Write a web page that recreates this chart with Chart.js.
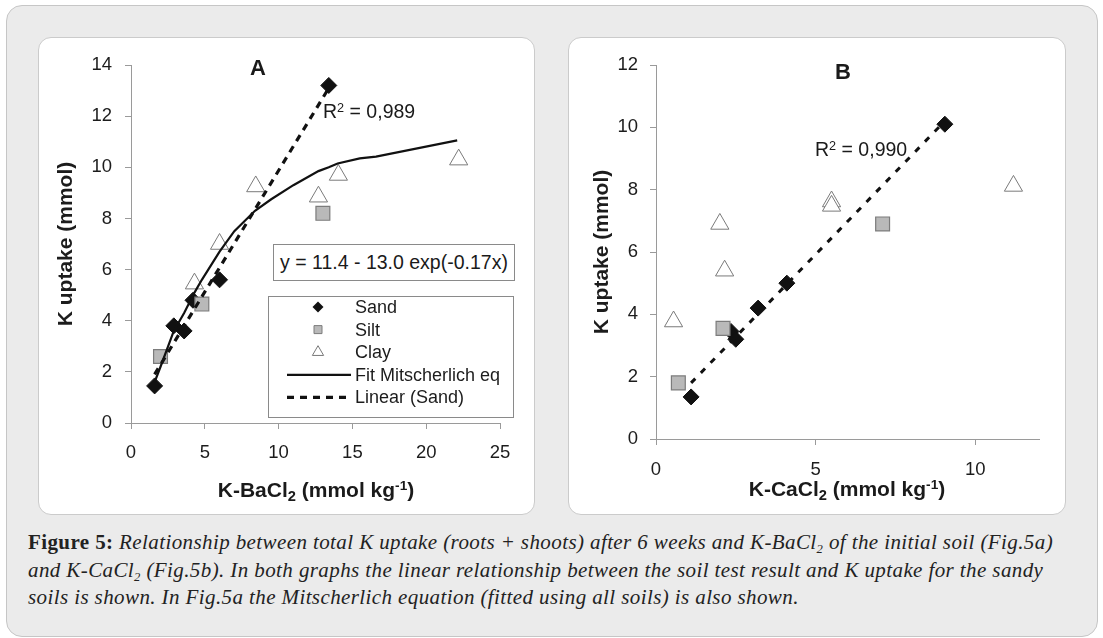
<!DOCTYPE html>
<html>
<head>
<meta charset="utf-8">
<title>Figure 5 - K uptake vs soil test K</title>
<script src="https://cdn.jsdelivr.net/npm/chart.js@4.4.0/dist/chart.umd.min.js"></script>
<style>
  html, body { margin: 0; padding: 0; background: #fff; }
  body { width: 1103px; height: 638px; position: relative; overflow: hidden;
         font-family: "Liberation Sans", Arial, sans-serif; color: #1a1a1a; }
  #frame { position: absolute; left: 6px; top: 5px; width: 1092px; height: 632px; box-sizing: border-box;
           background: #ebebeb; border: 1px solid #c6c6c6; border-radius: 16px; }
  .panel { position: absolute; top: 37px; height: 478px; box-sizing: border-box;
           background: #fff; border: 1px solid #cbcbcb; border-radius: 13px; }
  canvas { position: absolute; top: 37px; }
  .lbl { position: absolute; transform: translate(-50%, -50%); white-space: nowrap; }
  .left { position: absolute; transform: translate(0, -50%); white-space: nowrap; }
  .xt { font-weight: bold; font-size: 21px; }
  .ttl { font-weight: bold; font-size: 22px; }
  .r2 { font-size: 19.5px; }
  .sb { font-size: 0.7em; position: relative; top: 0.3em; }
  .sp { font-size: 0.65em; position: relative; top: -0.5em; }
  #eq { position: absolute; left: 273px; top: 244px; width: 242px; height: 37px; box-sizing: border-box;
        border: 1px solid #8a8a8a; background: #fff; font-size: 19.5px; line-height: 35px; text-align: center;
        white-space: nowrap; z-index: 2; }
  #caption { position: absolute; left: 28px; top: 529px; font-family: "Liberation Serif", "Times New Roman", serif;
             font-size: 21px; line-height: 27.5px; color: #222; letter-spacing: 0.4px; }
  #caption .ln { display: block; white-space: nowrap; }
  #caption i sub { font-size: 0.6em; line-height: 0; vertical-align: -0.3em; }
  .z { z-index: 3; }
</style>
</head>
<body>
<div id="frame"></div>
<div class="panel" style="left:38px; width:497px;"></div>
<div class="panel" style="left:568px; width:498px;"></div>
<canvas id="chartA" width="497" height="478" style="left:38px;"></canvas>
<canvas id="chartB" width="498" height="478" style="left:568px;"></canvas>

<div class="lbl ttl z" style="left:258px; top:68px;">A</div>
<div class="lbl ttl z" style="left:843px; top:72px;">B</div>
<div class="left r2 z" style="left:323px; top:111px;">R<span class="sp">2</span> = 0,989</div>
<div class="left r2 z" style="left:815px; top:149px;">R<span class="sp">2</span> = 0,990</div>
<div id="eq">y = 11.4 - 13.0 exp(-0.17x)</div>
<div class="lbl xt z" style="left:316px; top:490px;">K-BaCl<span class="sb">2</span> (mmol kg<span class="sp">-1</span>)</div>
<div class="lbl xt z" style="left:847px; top:489px;">K-CaCl<span class="sb">2</span> (mmol kg<span class="sp">-1</span>)</div>

<div id="caption">
  <span class="ln"><b>Figure 5:</b> <i>Relationship between total K uptake (roots + shoots) after 6 weeks and K-BaCl<sub>2</sub> of the initial soil (Fig.5a)</i></span>
  <span class="ln"><i>and K-CaCl<sub>2</sub> (Fig.5b). In both graphs the linear relationship between the soil test result and K uptake for the sandy</i></span>
  <span class="ln"><i>soils is shown. In Fig.5a the Mitscherlich equation (fitted using all soils) is also shown.</i></span>
</div>

<script>
// figure5.js
// Two scatter panels: K uptake against K-BaCl2 (A) and K-CaCl2 (B)

// =============== DATA: panel A (K-BaCl2) ===============
const sandA_x = [1.6, 2.9, 3.6, 4.2, 6.0, 13.4];
const sandA_y = [1.45, 3.8, 3.6, 4.8, 5.6, 13.2];
const siltA_x = [2.0, 4.8, 13.0];
const siltA_y = [2.6, 4.65, 8.2];
const clayA_x = [4.3, 6.0, 8.45, 12.7, 14.05, 22.2];
const clayA_y = [5.45, 7.0, 9.25, 8.85, 9.7, 10.3];
// Mitscherlich fit as drawn
const fitA_x = [1.6, 2.0, 2.9, 3.6, 4.3, 4.8, 6.0, 7.0, 8.4, 9.5, 11.0, 12.7, 13.4, 14.0, 15.5, 16.6, 22.1];
const fitA_y = [1.6, 2.2, 3.6, 4.3, 5.1, 5.6, 6.7, 7.5, 8.3, 8.75, 9.3, 9.85, 10.0, 10.15, 10.35, 10.42, 11.05];
// linear trend (sand), end points
const linA_x = [1.6, 13.4];
const linA_y = [1.9, 13.1];

// =============== DATA: panel B (K-CaCl2) ===============
const sandB_x = [1.1, 2.35, 2.5, 3.2, 4.1, 9.05];
const sandB_y = [1.35, 3.45, 3.2, 4.2, 5.0, 10.1];
const siltB_x = [0.7, 2.1, 7.1];
const siltB_y = [1.8, 3.55, 6.9];
const clayB_x = [0.55, 2.0, 2.15, 5.5, 5.5, 11.2];
const clayB_y = [3.77, 6.9, 5.4, 7.62, 7.48, 8.12];
const linB_x = [1.1, 9.05];
const linB_y = [1.8, 10.2];

// axis ranges / tick steps
const xMaxA = 25, yMaxA = 14, xStepA = 5, yStepA = 2;
const xMaxB = 12, yMaxB = 12, xStepB = 5, yStepB = 2;

const LEGEND_ORDER = ['Sand', 'Silt', 'Clay', 'Fit Mitscherlich eq', 'Linear (Sand)'];
// ======================================================

const AXIS_COLOR = '#9a9a9a';
const TICK_COLOR = '#1c1c1c';
Chart.defaults.font.family = '"Liberation Sans", Arial, sans-serif';

function pts(xs, ys) {
  return xs.map((x, i) => ({ x: x, y: ys[i] }));
}

// marker styles shared by both panels
function sandSet(xs, ys) {
  return { label: 'Sand', data: pts(xs, ys), order: 4, pointStyle: 'rectRot', pointRadius: 8,
           backgroundColor: '#111', borderColor: '#111', borderWidth: 1 };
}
function siltSet(xs, ys) {
  return { label: 'Silt', data: pts(xs, ys), order: 3, pointStyle: 'rect', pointRadius: 9.8,
           backgroundColor: '#b9b9b9', borderColor: '#7c7c7c', borderWidth: 1.2 };
}
function claySet(xs, ys) {
  return { label: 'Clay', data: pts(xs, ys), order: 2, pointStyle: 'triangle', pointRadius: 10.5,
           backgroundColor: '#fff', borderColor: '#7a7a7a', borderWidth: 1 };
}
function lineSet(label, xs, ys, width, dash, order) {
  return { label: label, data: pts(xs, ys), order: order, showLine: true, pointRadius: 0,
           borderColor: '#111', borderWidth: width, borderDash: dash, fill: false, tension: 0 };
}

// legend box drawn inside panel A
const boxLegend = {
  id: 'boxLegend',
  afterDraw(chart) {
    const ctx = chart.ctx;
    const bx = 230, by = 259, bw = 245, bh = 121;
    ctx.save();
    ctx.fillStyle = '#fff';
    ctx.fillRect(bx, by, bw, bh);
    ctx.strokeStyle = '#8a8a8a';
    ctx.lineWidth = 1;
    ctx.strokeRect(bx + 0.5, by + 0.5, bw, bh);
    ctx.font = '18px "Liberation Sans", Arial, sans-serif';
    ctx.textBaseline = 'middle';
    LEGEND_ORDER.forEach((lab, i) => {
      const ds = chart.data.datasets.find(d => d.label === lab);
      const y = by + 11 + i * 22.6;
      const sx = 280;
      ctx.save();
      ctx.fillStyle = ds.backgroundColor || '#111';
      ctx.strokeStyle = ds.borderColor;
      ctx.lineWidth = 1;
      ctx.beginPath();
      if (ds.pointStyle === 'rectRot') {
        const r = 5.5;
        ctx.moveTo(sx, y - r); ctx.lineTo(sx + r, y); ctx.lineTo(sx, y + r); ctx.lineTo(sx - r, y);
        ctx.closePath(); ctx.fill();
      } else if (ds.pointStyle === 'rect') {
        ctx.rect(sx - 4, y - 4, 8, 8); ctx.fill(); ctx.stroke();
      } else if (ds.pointStyle === 'triangle') {
        const r = 6.5;
        ctx.moveTo(sx, y - r); ctx.lineTo(sx + r * 0.866, y + r / 2); ctx.lineTo(sx - r * 0.866, y + r / 2);
        ctx.closePath(); ctx.fill(); ctx.stroke();
      } else {
        ctx.lineWidth = ds.borderWidth;
        ctx.setLineDash(ds.borderDash || []);
        ctx.moveTo(249, y); ctx.lineTo(313, y); ctx.stroke();
      }
      ctx.restore();
      ctx.fillStyle = TICK_COLOR;
      ctx.fillText(lab, 317, y + 1);
    });
    ctx.restore();
  }
};

// Chart builder for one panel
function buildPanel(canvasId, p) {
  const ctx = document.getElementById(canvasId).getContext('2d');
  return new Chart(ctx, {
    type: 'scatter',
    data: { datasets: p.datasets },
    options: {
      responsive: false,
      animation: false,
      events: [],
      layout: { padding: { left: 0, top: 28, right: p.padRight, bottom: 0 } },
      plugins: { legend: { display: false }, tooltip: { enabled: false } },
      scales: {
        x: {
          type: 'linear', min: 0, max: p.xMax,
          ticks: { stepSize: p.xStep, includeBounds: false, padding: p.xTickPad, maxRotation: 0,
                   color: TICK_COLOR, font: { size: 18.5 } },
          grid: { drawOnChartArea: false, tickLength: 6, color: AXIS_COLOR },
          border: { color: AXIS_COLOR },
          afterFit: s => { s.height = p.xHeight; }
        },
        y: {
          type: 'linear', min: 0, max: p.yMax,
          ticks: { stepSize: p.yStep, padding: p.yTickPad, color: TICK_COLOR, font: { size: 18.5 } },
          grid: { drawOnChartArea: false, tickLength: 6, color: AXIS_COLOR },
          border: { color: AXIS_COLOR },
          title: { display: true, text: 'K uptake (mmol)', color: TICK_COLOR,
                   font: { size: 21, weight: 'bold' }, padding: { top: p.yTitlePad, bottom: 0 } },
          afterFit: s => { s.width = p.yWidth; }
        }
      }
    },
    plugins: p.plugins || []
  });
}

document.addEventListener('DOMContentLoaded', () => {
  buildPanel('chartA', {
    datasets: [
      sandSet(sandA_x, sandA_y),
      siltSet(siltA_x, siltA_y),
      claySet(clayA_x, clayA_y),
      lineSet('Fit Mitscherlich eq', fitA_x, fitA_y, 2.2, [], 1),
      lineSet('Linear (Sand)', linA_x, linA_y, 3.2, [7, 6], 0)
    ],
    xMax: xMaxA, yMax: yMaxA, xStep: xStepA, yStep: yStepA,
    yWidth: 93, xHeight: 92, padRight: 35, xTickPad: 13, yTickPad: 13, yTitlePad: 16,
    plugins: [boxLegend]
  });

  buildPanel('chartB', {
    datasets: [
      sandSet(sandB_x, sandB_y),
      siltSet(siltB_x, siltB_y),
      claySet(clayB_x, clayB_y),
      lineSet('Linear (Sand)', linB_x, linB_y, 3, [6, 8], 0)
    ],
    xMax: xMaxB, yMax: yMaxB, xStep: xStepB, yStep: yStepB,
    yWidth: 88, xHeight: 76, padRight: 27, xTickPad: 14, yTickPad: 12, yTitlePad: 22
  });
});
</script>
</body>
</html>
